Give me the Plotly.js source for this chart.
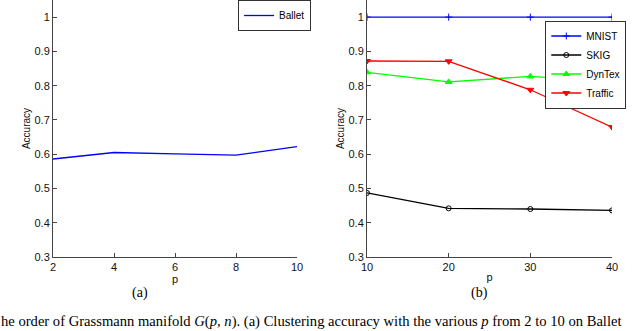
<!DOCTYPE html>
<html>
<head>
<meta charset="utf-8">
<script src="https://cdn.plot.ly/plotly-3.0.1.min.js"></script>
<style>
  html, body { margin: 0; padding: 0; background: #fff; }
  #chart { width: 640px; height: 331px; }
</style>
</head>
<body>
<div id="chart"></div>
<script>
// panel (a): Ballet
const pLeft = [2, 4, 6, 8, 10];
const ballet = [0.586, 0.605, 0.601, 0.597, 0.622];

// panel (b)
const pRight = [10, 20, 30, 40];
const mnist = [1.0, 1.0, 1.0, 1.0];
const skig = [0.487, 0.442, 0.440, 0.436];
const dyntex = [0.839, 0.811, 0.827, 0.812];
const traffic = [0.872, 0.871, 0.788, 0.679];

const yTicks = [0.3, 0.4, 0.5, 0.6, 0.7, 0.8, 0.9, 1];
const yTickText = ["0.3", "0.4", "0.5", "0.6", "0.7", "0.8", "0.9", "1"];

const axisFont = { family: "Liberation Sans, Arial, sans-serif", size: 11, color: "#111" };

function line(x, y, name, color, symbol, size, opts) {
  const trace = {
    type: "scatter",
    mode: symbol ? "lines+markers" : "lines",
    x: x,
    y: y,
    name: name,
    line: { color: color, width: 1.3 }
  };
  if (symbol) {
    trace.marker = { symbol: symbol, size: size, color: color, line: { color: color, width: 1 } };
  }
  return Object.assign(trace, opts);
}

const traces = [
  line(pLeft, ballet, "Ballet", "#0000ff", null, 0, { xaxis: "x", yaxis: "y", legend: "legend" }),
  line(pRight, mnist, "MNIST", "#0000ff", "cross-thin-open", 5, { xaxis: "x2", yaxis: "y2", legend: "legend2" }),
  line(pRight, skig, "SKIG", "#000000", "circle-open", 5, { xaxis: "x2", yaxis: "y2", legend: "legend2" }),
  line(pRight, dyntex, "DynTex", "#00ff00", "triangle-up", 6, { xaxis: "x2", yaxis: "y2", legend: "legend2" }),
  line(pRight, traffic, "Traffic", "#ff0000", "triangle-down", 6, { xaxis: "x2", yaxis: "y2", legend: "legend2" })
];

function xAxis(domain, range, ticks, anchor) {
  return {
    domain: domain,
    range: range,
    anchor: anchor,
    tickvals: ticks,
    ticktext: ticks.map(String),
    ticks: "inside",
    ticklen: 4,
    tickcolor: "#444",
    showline: true,
    linecolor: "#444",
    linewidth: 1,
    showgrid: false,
    zeroline: false,
    tickfont: axisFont,
    title: { text: "p", font: axisFont, standoff: 1 },
    automargin: false
  };
}

function yAxis(anchor) {
  return {
    domain: [0.2236, 1],
    range: [0.3, 1.05],
    anchor: anchor,
    tickvals: yTicks,
    ticktext: yTickText,
    ticks: "inside",
    ticklen: 4,
    tickcolor: "#444",
    showline: true,
    linecolor: "#444",
    linewidth: 1,
    showgrid: false,
    zeroline: false,
    tickfont: axisFont,
    title: { text: "Accuracy", font: { family: axisFont.family, size: 10, color: "#111" }, standoff: 1 },
    automargin: false
  };
}

const legendBox = {
  bgcolor: "#ffffff",
  bordercolor: "#333",
  borderwidth: 1,
  font: { family: "Liberation Sans, Arial, sans-serif", size: 10, color: "#000" },
  tracegroupgap: 0,
  itemwidth: 30
};

const layout = {
  width: 640,
  height: 331,
  margin: { l: 0, r: 0, t: 0, b: 0 },
  paper_bgcolor: "#ffffff",
  plot_bgcolor: "#ffffff",
  showlegend: true,
  xaxis: xAxis([53 / 640, 297 / 640], [2, 10], pLeft, "y"),
  yaxis: yAxis("x"),
  xaxis2: xAxis([367 / 640, 612 / 640], [10, 40], pRight, "y2"),
  yaxis2: yAxis("x2"),
  legend: Object.assign({ x: 0.372, y: 1.0, xanchor: "left", yanchor: "top" }, legendBox),
  legend2: Object.assign({ x: 0.852, y: 0.938, xanchor: "left", yanchor: "top" }, legendBox),
  annotations: [
    { text: "(a)", x: 130 / 640, y: 1 - 303 / 331, xref: "paper", yref: "paper", showarrow: false,
      font: { family: "Liberation Serif, serif", size: 14, color: "#000" } },
    { text: "(b)", x: 490 / 640, y: 1 - 303 / 331, xref: "paper", yref: "paper", showarrow: false,
      font: { family: "Liberation Serif, serif", size: 14, color: "#000" } },
    { text: "he order of Grassmann manifold <i>G</i>(<i>p, n</i>). (a) Clustering accuracy with the various <i>p</i> from 2 to 10 on Ballet",
      x: 0, y: 0, xref: "paper", yref: "paper", xanchor: "left", yanchor: "bottom", showarrow: false,
      borderpad: 0,
      font: { family: "Liberation Serif, serif", size: 14.6, color: "#000" } }
  ]
};

Plotly.newPlot("chart", traces, layout, { displayModeBar: false, staticPlot: true });
</script>
</body>
</html>
